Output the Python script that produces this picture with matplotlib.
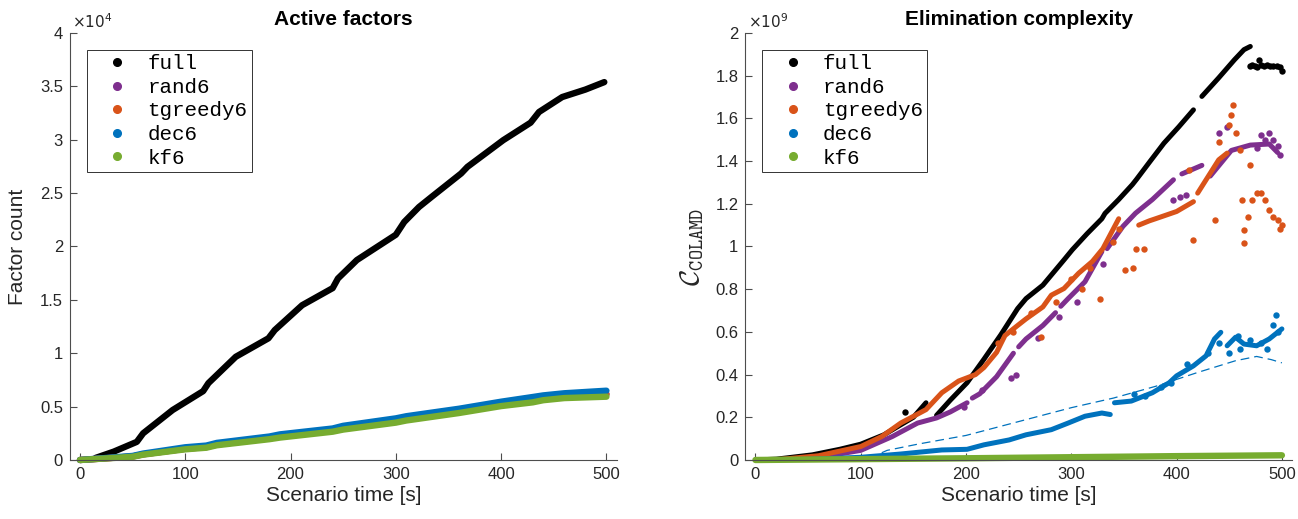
import matplotlib
matplotlib.use("Agg")
import matplotlib.pyplot as plt
from matplotlib.lines import Line2D
import numpy as np

plt.rcParams["font.family"] = ["Liberation Sans", "DejaVu Sans"]

NAN = np.nan
SERIES = ["full", "rand6", "tgreedy6", "dec6", "kf6"]
COLORS = {
    "full": "#000000",
    "rand6": "#7E2F8E",
    "tgreedy6": "#D95319",
    "dec6": "#0072BD",
    "kf6": "#77AC30",
}
AXIS_COLOR = "#4d4d4d"
TEXT_COLOR = "#262626"

# ---- Active factors: factor count over scenario time [s]
af_full_t = [15, 32, 54, 60, 88, 117, 122, 148, 179, 185, 211, 240, 245, 263,
             275, 300, 308, 322, 334, 362, 368, 402, 428, 436, 458, 480, 498]
af_full = [200, 780, 1700, 2500, 4680, 6450, 7200, 9670, 11400, 12170, 14500,
           16100, 17000, 18730, 19500, 21100, 22300, 23700, 24650, 26840, 27460,
           29960, 31600, 32600, 34000, 34700, 35400]

af_t = [0, 20, 50, 60, 100, 120, 130, 180, 190, 240, 250, 300, 310, 360, 400,
        430, 440, 460, 500]
af_rand6 = [0, 130, 330, 530, 1050, 1210, 1450, 2030, 2190, 2750, 2950, 3620,
            3820, 4540, 5200, 5580, 5780, 5980, 6150]
af_tgreedy6 = [0, 130, 330, 540, 1060, 1220, 1460, 2040, 2200, 2760, 2960, 3630,
               3840, 4560, 5220, 5600, 5800, 6000, 6180]
af_dec6 = [0, 150, 380, 600, 1190, 1350, 1600, 2200, 2400, 2950, 3200, 3900,
           4100, 4800, 5460, 5900, 6050, 6250, 6490]
af_kf6 = [0, 120, 300, 500, 1000, 1150, 1380, 1950, 2100, 2650, 2850, 3500,
          3700, 4400, 5050, 5400, 5600, 5800, 5930]

# ---- Elimination complexity (x 1e9) over scenario time [s]
ec_full_t = [0, 20, 54, 80, 100, 122, 138, 150, 162, NAN,
             172, 185, 201, 217, 233, 249, 257, 273, 293, 301, 315, 329, 332,
             345, 358, 362, 375, 388, 402, 416, NAN,
             424, 440, 455, 464, 470]
ec_full = [0, 0.004, 0.024, 0.05, 0.074, 0.118, 0.165, 0.2, 0.268, NAN,
           0.209, 0.28, 0.362, 0.472, 0.586, 0.709, 0.756, 0.819, 0.937, 0.985,
           1.06, 1.13, 1.155, 1.22, 1.29, 1.315, 1.40, 1.484, 1.56, 1.64, NAN,
           1.703, 1.79, 1.875, 1.922, 1.937]
ec_full_pts_t = [142, 470, 472, 474, 476, 478, 480, 483, 486, 489, 492, 495, 498, 500]
ec_full_pts = [0.224, 1.845, 1.85, 1.845, 1.84, 1.875, 1.85, 1.845, 1.85, 1.845,
               1.845, 1.845, 1.84, 1.82]

ec_rand6_t = [30, 60, 100, 130, 154, 172, 185, 201, NAN, 206, 213, 229, 245, NAN,
              250, 257, 273, 285, NAN, 290, 297, 313, 329, NAN, 334, 349, 361,
              377, 397, NAN, 405, 424, NAN, 432, 452, 470, 488, 496]
ec_rand6 = [0.002, 0.012, 0.045, 0.11, 0.173, 0.197, 0.225, 0.268, NAN, 0.29,
            0.31, 0.39, 0.5, NAN, 0.53, 0.567, 0.63, 0.69, NAN, 0.72, 0.756,
            0.835, 0.976, NAN, 0.99, 1.094, 1.156, 1.22, 1.3125, NAN, 1.34, 1.38,
            NAN, 1.33, 1.45, 1.475, 1.48, 1.44]
ec_rand6_pts_t = [198, 215, 243, 247, 268, 288, 305, 330, 397, 403, 409, 440,
                  448, 476, 480, 484, 488, 492, 496, 498]
ec_rand6_pts = [0.25, 0.33, 0.385, 0.397, 0.57, 0.67, 0.74, 0.92, 1.22, 1.23,
                1.24, 1.53, 1.56, 1.46, 1.52, 1.50, 1.53, 1.50, 1.47, 1.43]

ec_tgreedy6_t = [20, 60, 100, 120, 138, 162, 177, 193, 209, 217, 229, 237, 249,
                 257, 273, 281, 293, 307, 320, 330, 345, NAN, 364, 374, 380, 390,
                 400, 416, NAN, 420, 440, 448]
ec_tgreedy6 = [0.001, 0.02, 0.063, 0.11, 0.173, 0.236, 0.315, 0.37, 0.40, 0.433,
               0.504, 0.583, 0.63, 0.661, 0.717, 0.772, 0.803, 0.875, 0.93, 0.99,
               1.13, NAN, 1.10, 1.12, 1.13, 1.147, 1.164, 1.21, NAN, 1.25, 1.406,
               1.4375]
ec_tgreedy6_pts_t = [230, 245, 262, 271, 285, 300, 310, 318, 327, 340, 345, 351,
                     359, 361, 369, 412, 416, 436, 440, 450, 452, 454, 456, 460,
                     462, 464, 464, 468, 470, 472, 476, 480, 484, 488, 492, 496,
                     498, 500]
ec_tgreedy6_pts = [0.55, 0.60, 0.69, 0.575, 0.74, 0.85, 0.80, 0.90, 0.756, 1.02,
                   1.08, 0.89, 0.898, 0.99, 0.99, 1.36, 1.03, 1.125, 1.49, 1.57,
                   1.617, 1.664, 1.53, 1.45, 1.22, 1.078, 1.016, 1.14, 1.38, 1.22,
                   1.25, 1.25, 1.22, 1.17, 1.14, 1.125, 1.08, 1.10]

ec_dec6_t = [0, 50, 100, 138, 177, 201, 217, 241, 257, 281, 297, 313, 329, 337,
             NAN, 341, 357, 377, 393, 400, 416, 428, 436, 442, NAN, 448, 456,
             464, 476, 488, 500]
ec_dec6 = [0, 0.003, 0.0126, 0.028, 0.047, 0.05, 0.071, 0.094, 0.118, 0.142,
           0.173, 0.205, 0.22, 0.213, NAN, 0.268, 0.276, 0.315, 0.362, 0.394,
           0.441, 0.488, 0.567, 0.598, NAN, 0.535, 0.575, 0.543, 0.535, 0.567,
           0.614]
ec_dec6_pts_t = [360, 370, 385, 395, 410, 430, 440, 450, 458, 460, 470, 480,
                 486, 492, 494, 496]
ec_dec6_pts = [0.31, 0.30, 0.34, 0.36, 0.45, 0.50, 0.55, 0.50, 0.58, 0.52, 0.56,
               0.55, 0.52, 0.63, 0.677, 0.60]
ec_dec6_fit_t = [108, 125, 155, 200, 250, 300, 340, 380, 420, 456, 476, 490, 500]
ec_dec6_fit = [0.008, 0.045, 0.075, 0.115, 0.18, 0.245, 0.29, 0.345, 0.41,
               0.465, 0.485, 0.47, 0.455]

ec_kf6_t = [0, 100, 200, 300, 400, 500]
ec_kf6 = [0, 0.004, 0.008, 0.013, 0.018, 0.022]


def style_axes(ax, yticks, yticklabels, exponent):
    for side in ("top", "right"):
        ax.spines[side].set_visible(False)
    for side in ("left", "bottom"):
        ax.spines[side].set_color(AXIS_COLOR)
        ax.spines[side].set_linewidth(0.8)
    ax.set_xlim(-9.5, 510)
    ax.set_xticks([0, 100, 200, 300, 400, 500])
    ax.set_yticks(yticks)
    ax.set_yticklabels(yticklabels)
    ax.tick_params(direction="in", length=5, width=0.8, color=AXIS_COLOR,
                   labelsize=12, labelcolor=TEXT_COLOR, pad=5)
    ax.set_xlabel("Scenario time [s]", fontsize=15, color=TEXT_COLOR, labelpad=3)
    ax.text(0.004, 1.004, r"$\times10^{%d}$" % exponent, transform=ax.transAxes,
            ha="left", va="bottom", fontsize=11, color=TEXT_COLOR,
            math_fontfamily="dejavusans")
    handles = [Line2D([], [], ls="none", marker="o", ms=5.5, color=COLORS[s])
               for s in SERIES]
    leg = ax.legend(handles, SERIES, loc="upper left",
                    bbox_to_anchor=(0.031, 0.960), borderaxespad=0,
                    prop={"family": "Liberation Mono", "size": 15},
                    borderpad=0.2, handlelength=2.5, handletextpad=0.2,
                    labelspacing=0.22, fancybox=False, framealpha=1)
    leg.get_frame().set_edgecolor("#333333")
    leg.get_frame().set_linewidth(0.7)


fig = plt.figure(figsize=(12.98, 5.19), dpi=100)
ax1 = fig.add_axes([0.0539, 0.1137, 0.4214, 0.8227])
ax2 = fig.add_axes([0.5743, 0.1137, 0.4214, 0.8227])

# left panel
lw_l = 4.6
ax1.plot(af_full_t, af_full, color=COLORS["full"], lw=lw_l,
         solid_capstyle="round", solid_joinstyle="round")
for name, vals in (("rand6", af_rand6), ("tgreedy6", af_tgreedy6),
                   ("dec6", af_dec6), ("kf6", af_kf6)):
    ax1.plot(af_t, vals, color=COLORS[name], lw=lw_l, solid_capstyle="round",
             solid_joinstyle="round", clip_on=False)
ax1.set_ylim(0, 40000)
style_axes(ax1, np.arange(0, 40001, 5000),
           ["0", "0.5", "1", "1.5", "2", "2.5", "3", "3.5", "4"], 4)
ax1.set_title("Active factors", fontsize=15, fontweight="bold",
              color="black", pad=6)
ax1.set_ylabel("Factor count", fontsize=15, color=TEXT_COLOR)
ax1.yaxis.set_label_coords(-0.078, 0.5)

# right panel
lw_r = 3.6
ms_r = 4.6
main = [
    ("full", ec_full_t, ec_full, ec_full_pts_t, ec_full_pts),
    ("rand6", ec_rand6_t, ec_rand6, ec_rand6_pts_t, ec_rand6_pts),
    ("tgreedy6", ec_tgreedy6_t, ec_tgreedy6, ec_tgreedy6_pts_t, ec_tgreedy6_pts),
    ("dec6", ec_dec6_t, ec_dec6, ec_dec6_pts_t, ec_dec6_pts),
]
for name, t, v, pt, pv in main:
    ax2.plot(t, v, color=COLORS[name], lw=lw_r, solid_capstyle="round",
             solid_joinstyle="round")
    ax2.plot(pt, pv, ls="none", marker="o", ms=ms_r, mew=0, color=COLORS[name])
ax2.plot(ec_dec6_fit_t, ec_dec6_fit, color=COLORS["dec6"], lw=0.9,
         dashes=(7, 4))
ax2.plot(ec_kf6_t, ec_kf6, color=COLORS["kf6"], lw=4.6,
         solid_capstyle="round", clip_on=False)
ax2.set_ylim(0, 2)
style_axes(ax2, np.arange(0, 2.01, 0.2),
           ["0", "0.2", "0.4", "0.6", "0.8", "1", "1.2", "1.4", "1.6", "1.8", "2"], 9)
ax2.set_title("Elimination complexity", fontsize=15, fontweight="bold",
              color="black", pad=6)
ax2.set_ylabel(r"$\mathcal{C}_{\mathtt{COLAMD}}$", fontsize=20,
               color=TEXT_COLOR, math_fontfamily="cm")
ax2.yaxis.set_label_coords(-0.072, 0.5)

fig.savefig("out.png", dpi=100)
